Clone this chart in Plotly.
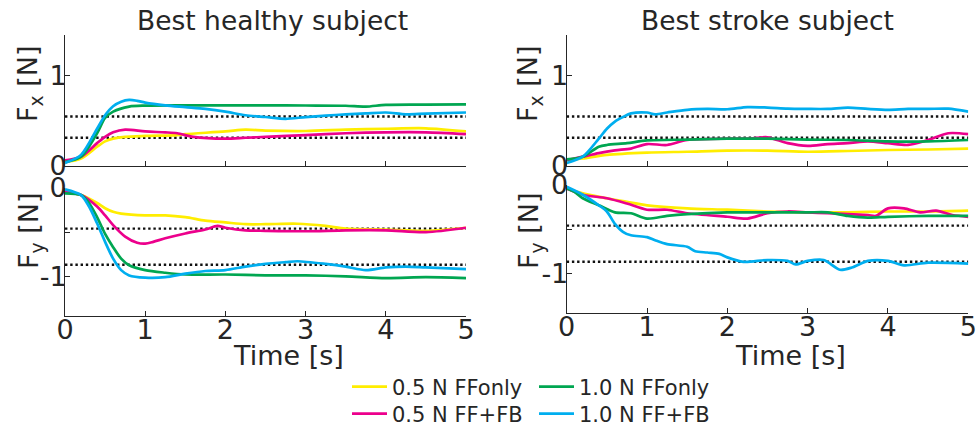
import plotly.graph_objects as go

W, H = 978, 426

# ---------------- data ----------------
# Best healthy subject, Fx
hx_t_y = [0, 0.2, 0.4, 0.5, 0.6, 0.75, 1.0, 1.4, 1.5, 2.0, 2.25, 2.5, 3.0, 3.5, 4.0, 4.5, 5.0]
hx_y05ff = [0.04, 0.08, 0.21, 0.27, 0.30, 0.32, 0.33, 0.34, 0.35, 0.38, 0.40, 0.39, 0.385, 0.40, 0.41, 0.415, 0.38]
hx_t_m = [0, 0.2, 0.4, 0.5, 0.6, 0.75, 1.0, 1.25, 1.4, 1.6, 2.0, 2.25, 2.5, 3.0, 3.5, 4.0, 4.5, 5.0]
hx_m05fb = [0.06, 0.10, 0.25, 0.32, 0.37, 0.40, 0.38, 0.37, 0.36, 0.32, 0.30, 0.31, 0.32, 0.34, 0.36, 0.37, 0.37, 0.35]
hx_t_g = [0, 0.2, 0.4, 0.5, 0.6, 0.8, 1.0, 1.5, 2.0, 2.5, 3.0, 3.5, 3.75, 4.0, 4.5, 5.0]
hx_g10ff = [0.04, 0.10, 0.36, 0.53, 0.60, 0.656, 0.667, 0.67, 0.67, 0.67, 0.668, 0.665, 0.655, 0.675, 0.678, 0.68]
hx_t_c = [0, 0.2, 0.4, 0.5, 0.6, 0.7, 0.8, 0.9, 1.0, 1.25, 1.5, 1.75, 2.0, 2.25, 2.5, 2.75, 3.0, 3.25, 3.5, 3.75, 4.0, 4.25, 4.5, 5.0]
hx_c10fb = [0.03, 0.12, 0.41, 0.56, 0.66, 0.71, 0.73, 0.72, 0.70, 0.67, 0.65, 0.63, 0.60, 0.56, 0.54, 0.52, 0.54, 0.555, 0.57, 0.58, 0.59, 0.57, 0.578, 0.59]

# Best healthy subject, Fy
hy_t_y = [0, 0.2, 0.4, 0.5, 0.6, 0.7, 1.0, 1.25, 1.5, 1.75, 2.0, 2.25, 2.5, 2.9, 3.25, 3.5, 4.0, 4.5, 5.0]
hy_y05ff = [-0.04, -0.08, -0.17, -0.23, -0.27, -0.29, -0.31, -0.31, -0.33, -0.37, -0.39, -0.41, -0.41, -0.405, -0.43, -0.46, -0.47, -0.485, -0.45]
hy_t_m = [0, 0.2, 0.4, 0.5, 0.6, 0.75, 0.9, 1.0, 1.1, 1.25, 1.5, 1.75, 1.9, 2.0, 2.25, 2.5, 3.0, 3.5, 4.0, 4.5, 5.0]
hy_m05fb = [-0.04, -0.08, -0.21, -0.31, -0.42, -0.55, -0.62, -0.63, -0.61, -0.57, -0.515, -0.47, -0.43, -0.45, -0.48, -0.485, -0.49, -0.48, -0.48, -0.50, -0.45]
hy_t_g = [0, 0.2, 0.3, 0.4, 0.5, 0.6, 0.7, 0.8, 1.0, 1.25, 1.5, 2.0, 2.5, 3.0, 3.5, 4.0, 4.5, 5.0]
hy_g10ff = [-0.06, -0.08, -0.17, -0.33, -0.52, -0.67, -0.80, -0.875, -0.93, -0.96, -0.98, -0.98, -0.99, -0.99, -1.0, -1.02, -1.01, -1.02]
hy_t_c = [0, 0.2, 0.3, 0.4, 0.5, 0.6, 0.7, 0.8, 1.0, 1.25, 1.5, 1.75, 2.0, 2.25, 2.5, 2.75, 2.9, 3.25, 3.5, 3.75, 4.0, 4.25, 4.5, 5.0]
hy_c10fb = [-0.015, -0.08, -0.21, -0.40, -0.61, -0.80, -0.93, -0.99, -1.015, -1.01, -0.97, -0.94, -0.93, -0.89, -0.86, -0.84, -0.83, -0.86, -0.89, -0.93, -0.90, -0.89, -0.90, -0.92]

# Best stroke subject, Fx
sx_t_y = [0, 0.2, 0.5, 1.0, 1.5, 2.0, 2.5, 3.0, 3.5, 4.0, 4.5, 5.0]
sx_y05ff = [0.06, 0.08, 0.12, 0.145, 0.155, 0.167, 0.167, 0.155, 0.163, 0.174, 0.18, 0.19]
sx_t_m = [0, 0.2, 0.4, 0.6, 0.8, 1.0, 1.25, 1.5, 2.0, 2.25, 2.5, 2.75, 3.0, 3.25, 3.5, 3.75, 4.0, 4.25, 4.5, 4.75, 5.0]
sx_m05fb = [0.06, 0.10, 0.14, 0.17, 0.19, 0.24, 0.23, 0.285, 0.30, 0.30, 0.315, 0.25, 0.22, 0.24, 0.25, 0.27, 0.25, 0.23, 0.285, 0.36, 0.35]
sx_t_g = [0, 0.2, 0.4, 0.5, 0.75, 1.0, 1.5, 2.0, 2.5, 3.0, 3.5, 4.0, 4.5, 5.0]
sx_g10ff = [0.07, 0.10, 0.21, 0.23, 0.25, 0.28, 0.29, 0.30, 0.30, 0.29, 0.285, 0.27, 0.27, 0.285]
sx_t_c = [0, 0.2, 0.4, 0.5, 0.6, 0.7, 0.8, 1.0, 1.1, 1.25, 1.5, 1.75, 2.0, 2.25, 2.5, 2.75, 3.0, 3.25, 3.5, 3.75, 4.0, 4.25, 4.5, 4.75, 5.0]
sx_c10fb = [0.03, 0.10, 0.30, 0.41, 0.49, 0.54, 0.58, 0.59, 0.57, 0.59, 0.62, 0.63, 0.626, 0.65, 0.645, 0.633, 0.63, 0.63, 0.645, 0.63, 0.62, 0.63, 0.63, 0.633, 0.60]

# Best stroke subject, Fy
sy_t_y = [0, 0.2, 0.5, 0.75, 1.0, 1.5, 2.0, 2.5, 3.0, 3.5, 4.0, 4.5, 5.0]
sy_y05ff = [-0.04, -0.095, -0.15, -0.19, -0.23, -0.265, -0.28, -0.30, -0.31, -0.31, -0.30, -0.30, -0.29]
sy_t_m = [0, 0.2, 0.5, 0.75, 1.0, 1.25, 1.5, 2.0, 2.25, 2.5, 2.75, 3.0, 3.25, 3.5, 3.75, 3.85, 4.0, 4.2, 4.4, 4.6, 4.8, 5.0]
sy_m05fb = [-0.04, -0.11, -0.15, -0.21, -0.28, -0.28, -0.32, -0.36, -0.38, -0.32, -0.30, -0.31, -0.32, -0.33, -0.34, -0.35, -0.265, -0.265, -0.31, -0.29, -0.34, -0.36]
sy_t_g = [0, 0.1, 0.2, 0.4, 0.6, 0.8, 1.0, 1.25, 1.5, 2.0, 2.5, 3.0, 3.25, 3.5, 3.75, 4.0, 4.5, 5.0]
sy_g10ff = [-0.04, -0.08, -0.15, -0.23, -0.31, -0.32, -0.38, -0.35, -0.33, -0.31, -0.31, -0.31, -0.31, -0.35, -0.37, -0.36, -0.35, -0.35]
sy_t_c = [0, 0.2, 0.4, 0.5, 0.6, 0.7, 0.8, 1.0, 1.1, 1.25, 1.5, 1.6, 1.75, 1.9, 2.0, 2.2, 2.5, 2.75, 2.85, 3.0, 3.2, 3.4, 3.55, 3.75, 4.0, 4.2, 4.5, 5.0]
sy_c10fb = [-0.02, -0.11, -0.23, -0.30, -0.44, -0.53, -0.57, -0.59, -0.625, -0.67, -0.70, -0.75, -0.765, -0.78, -0.82, -0.87, -0.85, -0.86, -0.90, -0.86, -0.85, -0.96, -0.935, -0.86, -0.86, -0.91, -0.88, -0.89]

# reference force levels (dotted lines)
ref_t = [0, 5]
fx_refs = [0.545, 0.31]
fy_refs = [-0.46, -0.87]

colors = {"0.5 N FFonly": "#FFED00", "1.0 N FFonly": "#00A651",
          "0.5 N FF+FB": "#EC008C", "1.0 N FF+FB": "#00AEEF"}

time_ticks = [0, 1, 2, 3, 4, 5]
time_labels = ["0", "1", "2", "3", "4", "5"]
titles = ["Best healthy subject", "Best stroke subject"]

# ---------------- figure ----------------
FONT = "DejaVu Sans"
TXT = "#262626"
fig = go.Figure()

def add_series(t, v, name, xa, ya):
    fig.add_trace(go.Scatter(
        x=t, y=v, mode="lines", name=name,
        line=dict(color=colors[name], width=2.7, shape="spline", smoothing=0.8),
        xaxis=xa, yaxis=ya, showlegend=False))

panels = [
    ("x", "y", [(hx_t_y, hx_y05ff, "0.5 N FFonly"), (hx_t_m, hx_m05fb, "0.5 N FF+FB"),
                (hx_t_g, hx_g10ff, "1.0 N FFonly"), (hx_t_c, hx_c10fb, "1.0 N FF+FB")], fx_refs),
    ("x2", "y2", [(sx_t_y, sx_y05ff, "0.5 N FFonly"), (sx_t_m, sx_m05fb, "0.5 N FF+FB"),
                  (sx_t_g, sx_g10ff, "1.0 N FFonly"), (sx_t_c, sx_c10fb, "1.0 N FF+FB")], fx_refs),
    ("x3", "y3", [(hy_t_y, hy_y05ff, "0.5 N FFonly"), (hy_t_m, hy_m05fb, "0.5 N FF+FB"),
                  (hy_t_g, hy_g10ff, "1.0 N FFonly"), (hy_t_c, hy_c10fb, "1.0 N FF+FB")], fy_refs),
    ("x4", "y4", [(sy_t_y, sy_y05ff, "0.5 N FFonly"), (sy_t_m, sy_m05fb, "0.5 N FF+FB"),
                  (sy_t_g, sy_g10ff, "1.0 N FFonly"), (sy_t_c, sy_c10fb, "1.0 N FF+FB")], fy_refs),
]

for xa, ya, ser, refs in panels:
    for r in refs:
        fig.add_trace(go.Scatter(x=ref_t, y=[r, r], mode="lines", showlegend=False,
                                 line=dict(color="#111111", width=2.4, dash="2.4px,2.8px"),
                                 xaxis=xa, yaxis=ya))
    for t, v, name in ser:
        add_series(t, v, name, xa, ya)

# legend entries (two rows)
legend_rows = {"legend": ["0.5 N FFonly", "1.0 N FFonly"], "legend2": ["0.5 N FF+FB", "1.0 N FF+FB"]}
for lg, names in legend_rows.items():
    for name in names:
        fig.add_trace(go.Scatter(x=[None], y=[None], mode="lines", name=name,
                                 line=dict(color=colors[name], width=2.7),
                                 xaxis="x", yaxis="y", showlegend=True, legend=lg))

def px(v): return v / W
def py(v): return 1 - v / H

xl = [px(65), px(466)]
xr = [px(566.7), px(968.3)]
ytop = [py(165.7), py(35)]
ybl = [py(316), py(188)]
ybr = [py(313), py(185)]

axcommon = dict(showgrid=False, zeroline=False, showline=True, linecolor="#262626", linewidth=1,
                ticks="inside", ticklen=5, tickcolor="#262626", tickwidth=1,
                tickfont=dict(family=FONT, size=27, color=TXT))

layout = dict(
    width=W, height=H, margin=dict(l=0, r=0, t=0, b=0, autoexpand=False),
    paper_bgcolor="white", plot_bgcolor="white",
    font=dict(family=FONT, color=TXT),
)
for i, (dom, anchor) in enumerate([(xl, "y"), (xr, "y2"), (xl, "y3"), (xr, "y4")]):
    key = "xaxis" if i == 0 else f"xaxis{i+1}"
    layout[key] = dict(axcommon, domain=dom, anchor=anchor, range=[0, 5],
                       tickvals=time_ticks, ticktext=time_labels, showticklabels=(i >= 2),
                       ticklabelstandoff=-10)
for i, (dom, anchor) in enumerate([(ytop, "x"), (ytop, "x2"), (ybl, "x3"), (ybr, "x4")]):
    key = "yaxis" if i == 0 else f"yaxis{i+1}"
    if i < 2:
        yd = dict(range=[0, 1.45], tickvals=[0, 1, 1.45], ticktext=["0", "1", ""])
    else:
        yd = dict(range=[-1.45, 0], tickvals=[0, -0.5, -1], ticktext=["0", "", "-1"])
    layout[key] = dict(axcommon, domain=dom, anchor=anchor, ticklabelstandoff=-8, **yd)

legfont = dict(family=FONT, size=21, color=TXT)
for lg, yc in [("legend", 387), ("legend2", 414)]:
    layout[lg] = dict(orientation="h", x=px(347), y=py(yc), xanchor="left", yanchor="middle",
                      font=legfont, entrywidth=137, entrywidthmode="pixels", itemwidth=35,
                      bgcolor="rgba(0,0,0,0)", tracegroupgap=0)

ann = []
for cx, title in zip([272.5, 767.5], titles):
    ann.append(dict(text=title, x=px(cx), y=py(20), xref="paper", yref="paper", showarrow=False,
                    xanchor="center", yanchor="middle", font=dict(family=FONT, size=26.5, color=TXT)))
for cx in [288, 790]:
    ann.append(dict(text="Time [s]", x=px(cx), y=py(355), xref="paper", yref="paper", showarrow=False,
                    xanchor="center", yanchor="middle", font=dict(family=FONT, size=27, color=TXT)))
for cx, cy, txt in [(30, 84, "F<sub>x</sub> [N]"), (530, 84, "F<sub>x</sub> [N]"),
                    (30, 231, "F<sub>y</sub> [N]"), (530, 231, "F<sub>y</sub> [N]")]:
    ann.append(dict(text=txt, x=px(cx), y=py(cy), xref="paper", yref="paper", showarrow=False,
                    textangle=-90, xanchor="center", yanchor="middle",
                    font=dict(family=FONT, size=27, color=TXT)))
layout["annotations"] = ann

fig.update_layout(**layout)
fig.write_html("out.html")
